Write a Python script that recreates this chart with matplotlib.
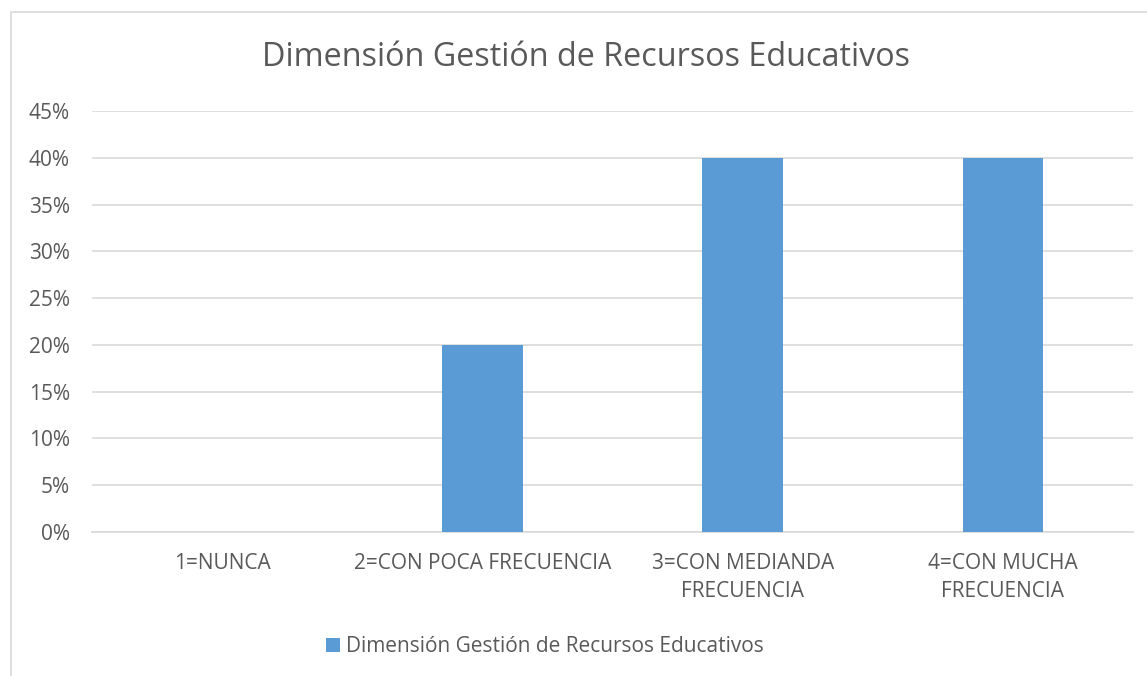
import matplotlib
matplotlib.use("Agg")
import matplotlib.pyplot as plt
from matplotlib.patches import Rectangle
from matplotlib.ticker import FuncFormatter

categories = ["1=NUNCA", "2=CON POCA FRECUENCIA", "3=CON MEDIANDA\nFRECUENCIA", "4=CON MUCHA\nFRECUENCIA"]
values = [0.0, 0.20, 0.40, 0.40]
series_name = "Dimensión Gestión de Recursos Educativos"
title = "Dimensión Gestión de Recursos Educativos"
yticks = [0, 0.05, 0.10, 0.15, 0.20, 0.25, 0.30, 0.35, 0.40, 0.45]

plt.rcParams["font.family"] = ["Open Sans", "DejaVu Sans"]
text_color = "#595959"
bar_color = "#5b9bd5"
grid_color = "#d9d9d9"

W, H = 1147, 676
fig = plt.figure(figsize=(W / 100, H / 100), dpi=100)

# chart frame
fig.add_artist(Rectangle((11 / W, -0.1), 1.2, (H - 12) / H + 0.1,
                         transform=fig.transFigure, fill=False,
                         edgecolor=grid_color, linewidth=1.2))

ax = fig.add_axes([92 / W, (H - 532) / H, 1041 / W, 421 / H])
x = range(len(categories))
ax.bar(x, values, width=0.31, color=bar_color, zorder=3, label=series_name)
ax.set_xlim(-0.5, len(categories) - 0.5)
ax.set_ylim(0, 0.45)
ax.set_yticks(yticks)
ax.yaxis.set_major_formatter(FuncFormatter(lambda v, p: f"{v * 100:.0f}%"))
ax.set_xticks(list(x))
ax.set_xticklabels(categories, linespacing=1.45)
ax.tick_params(axis="both", length=0, labelsize=15, labelcolor=text_color)
ax.tick_params(axis="y", pad=16)
ax.tick_params(axis="x", pad=15)
ax.grid(axis="y", color=grid_color, linewidth=1.2, zorder=0)
for s in ["left", "right", "top"]:
    ax.spines[s].set_visible(False)
ax.spines["bottom"].set_color(grid_color)
ax.spines["bottom"].set_linewidth(1.2)
for lbl in ax.get_xticklabels():
    lbl.set_horizontalalignment("center")
    lbl.set_multialignment("center")

fig.text(586 / W, 1 - 57 / H, title, ha="center", va="center",
         fontsize=23.3, color=text_color)

fig.legend(loc="center", bbox_to_anchor=(545 / W, 1 - 647 / H), frameon=False,
           fontsize=15, labelcolor=text_color, handlelength=0.65,
           handleheight=0.65, handletextpad=0.3)

fig.savefig("out.png", dpi=100)
